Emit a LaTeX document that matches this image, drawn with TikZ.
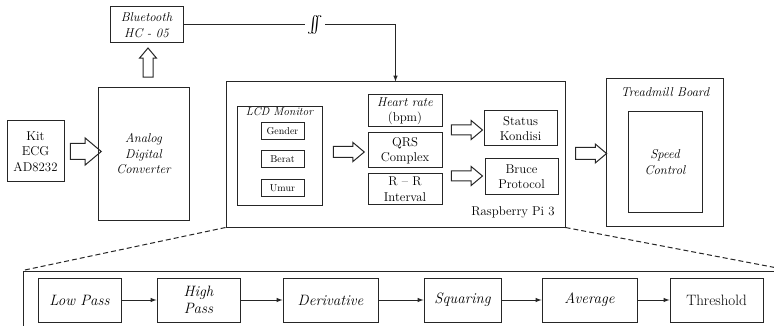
\documentclass[tikz,border=0pt]{standalone}
\usetikzlibrary{shapes.arrows}
\begin{document}
\begin{tikzpicture}[x=1pt, y=-1pt,
	box/.style 2 args={
		draw=black!85,
		line width=1pt,
		minimum width=#1,
		minimum height=#2,
		inner sep=1pt,
		align=center},
	hollow/.style 2 args={
		single arrow,
		draw=black!85,
		line width=1pt,
		inner xsep=0pt,
		inner ysep=#1,
		single arrow head extend=#2,
		single arrow tip angle=80,
		minimum height=31},
	link/.style={line width=1pt, draw=black!85},
	every node/.style={font=\fontsize{12.8}{15.5}\selectfont}]
	\useasboundingbox (0,0) rectangle (774,326);
	\clip (0,0) rectangle (774,326);
	% draw input side
	\node[box={57}{61}] (kit) at (35.5,151.5) {Kit\\ECG\\AD8232};
	\node[box={91}{132}] (adc) at (143.5,154) {\itshape Analog\\\itshape Digital\\\itshape Converter};
	\node[box={73}{36}] (bt) at (146.5,25) {\itshape Bluetooth\\\itshape HC - 05};
	\node[hollow={7.5}{5.5}] (a1) at (81,151.5) {};
	\node[hollow={4.5}{3.5}, rotate=90, minimum height=29] (a2) at (148,65.5) {};
	% draw raspberry pi block
	\node[box={339}{145}] (rpi) at (395.5,154.5) {};
	\node (rpilbl) at (513,212) {Raspberry Pi 3};
	\node[box={85}{98}] (lcd) at (279.5,156) {};
	\node[font=\fontsize{11.5}{13}\selectfont] (lcdlbl) at (279.5,111.5) {\itshape LCD Monitor};
	\foreach \t [count=\step from 1] in {Gender, Berat, Umur}
	\node[box={43}{17}, font=\fontsize{10}{12}\selectfont] (in\step) at (282.5,102+28.7*\step) {\t};
	\foreach \t/\y/\h [count=\step from 1] in {{\itshape Heart rate\\(bpm)}/111/32, {QRS\\Complex}/150.5/35, {R -- R\\Interval}/189/30}
	\node[box={74}{\h}] (m\step) at (405,\y) {\t};
	\node[box={73}{35}] (status) at (520.5,128.5) {Status\\Kondisi};
	\node[box={73}{35}] (bruce) at (521.5,176.5) {Bruce\\Protocol};
	\node[hollow={5}{4}] (a3) at (345.5,152) {};
	\node[hollow={4.5}{4.5}] (a4) at (464,130) {};
	\node[hollow={4.5}{4.5}] (a5) at (464,176) {};
	% draw treadmill board
	\node[box={117}{147}] (tread) at (664.5,152.5) {};
	\node (treadlbl) at (665,92) {\itshape Treadmill Board};
	\node[box={74}{100}] (speed) at (665,162) {\itshape Speed\\\itshape Control};
	\node[hollow={5.5}{3.5}] (a6) at (587.5,153.5) {};
	% draw wireless link
	\draw[link, -latex] (bt.east) -| node[pos=0.31, fill=white, inner xsep=1pt, inner ysep=0pt, scale=1.7] (brk) {$\int\!\!\!\int$} (rpi.north);
	% draw detail of the qrs detection
	\node[box={767}{69}] (dsp) at (406.5,305.5) {};
	\draw[link, dash pattern=on 5pt off 3pt] (rpi.south west) -- (dsp.north west);
	\draw[link, dash pattern=on 5pt off 3pt] (rpi.south east) -- (dsp.north east);
	\foreach \t/\x/\w [count=\step from 1] in {{\itshape Low Pass}/79.5/83, {\itshape High\\\itshape Pass}/198.5/83, {\itshape Derivative}/330.5/95, {\itshape Squaring}/462.5/77, {\itshape Average}/589.5/95, Threshold/716.5/93}
	\node[box={\w}{44}, font=\fontsize{15}{17}\selectfont] (f\step) at (\x,300) {\t};
	\foreach \step in {1,...,5} {
		\pgfmathtruncatemacro{\next}{add(\step,1)}
		\draw[link, -latex] (f\step.east) -> (f\next.west);
	}
\end{tikzpicture}
\end{document}
